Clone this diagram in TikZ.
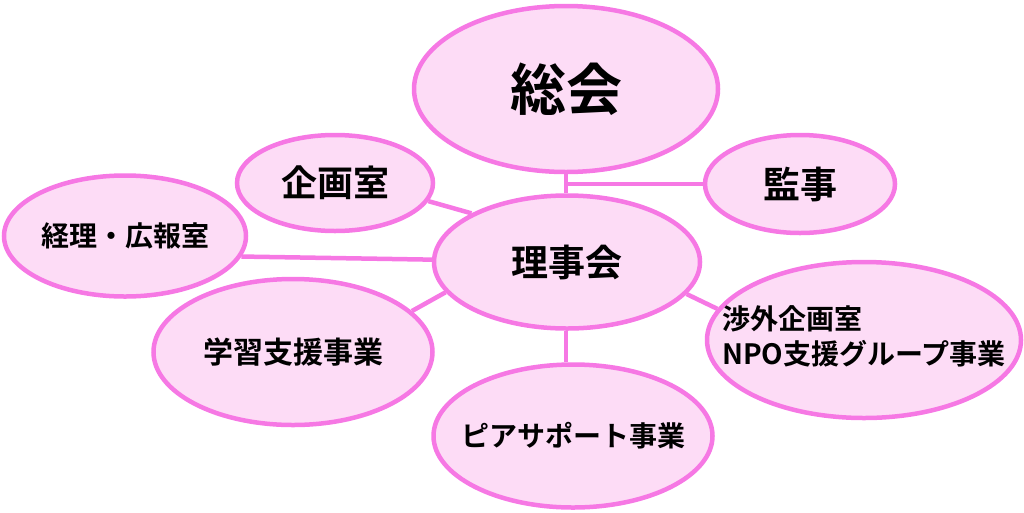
\documentclass[tikz,border=0pt]{standalone}
\usepackage{fontspec}
\setmainfont{Noto Sans CJK JP}[BoldFont={Noto Sans CJK JP Bold}]
\usetikzlibrary{shapes.geometric}
\definecolor{blobline}{RGB}{246,120,228}
\definecolor{blobfill}{RGB}{253,220,246}
\newcommand{\zw}[1]{\makebox[0pt]{#1}}
\begin{document}
\begin{tikzpicture}[x=1pt, y=-1pt, font=\bfseries, line width=4.5pt,
    blob/.style={ellipse, draw=blobline, fill=blobfill, inner sep=0pt},
    link/.style={draw=blobline}]
  \useasboundingbox (0,0) rectangle (1024,512);
  % the boxes
  \node[blob, minimum width=304, minimum height=166] (soukai) at (566,89) {\fontsize{56}{60}\selectfont 総会};
  \node[blob, minimum width=190, minimum height=98] (kanji) at (800,184) {\fontsize{37}{40}\selectfont 監事};
  \node[blob, minimum width=196, minimum height=96] (kikaku) at (335,183) {\fontsize{36}{40}\selectfont 企画室};
  \node[blob, minimum width=242, minimum height=121] (keiri) at (125,236) {\fontsize{28}{32}\selectfont\zw{経理・広報室}};
  \node[blob, minimum width=266, minimum height=133] (rijikai) at (567,262) {\fontsize{37}{40}\selectfont 理事会};
  \node[blob, minimum width=279, minimum height=146] (gakushu) at (293,352) {\fontsize{30}{34}\selectfont\zw{学習支援事業}};
  \node[blob, minimum width=314, minimum height=156] (shogai) at (864,340) {\fontsize{28}{33}\selectfont\zw{\begin{tabular}{@{}l@{}}渉外企画室\\NPO支援グループ事業\end{tabular}}};
  \node[blob, minimum width=279, minimum height=143] (pia) at (573,436) {\fontsize{28}{32}\selectfont\zw{ピアサポート事業}};
  % the links
  \draw[link] (soukai.south) -- (soukai.south |- rijikai.north);
  \draw[link] (kanji.west) -- (kanji.west -| soukai.south);
  \draw[link] (kikaku.-11) -- (rijikai.153);
  \draw[link] (keiri.-10) -- (rijikai.179);
  \draw[link] (gakushu.19) -- (rijikai.194);
  \draw[link] (shogai.168) -- (rijikai.-15);
  \draw[link] (soukai.south |- rijikai.south) -- (soukai.south |- pia.north);
\end{tikzpicture}
\end{document}
